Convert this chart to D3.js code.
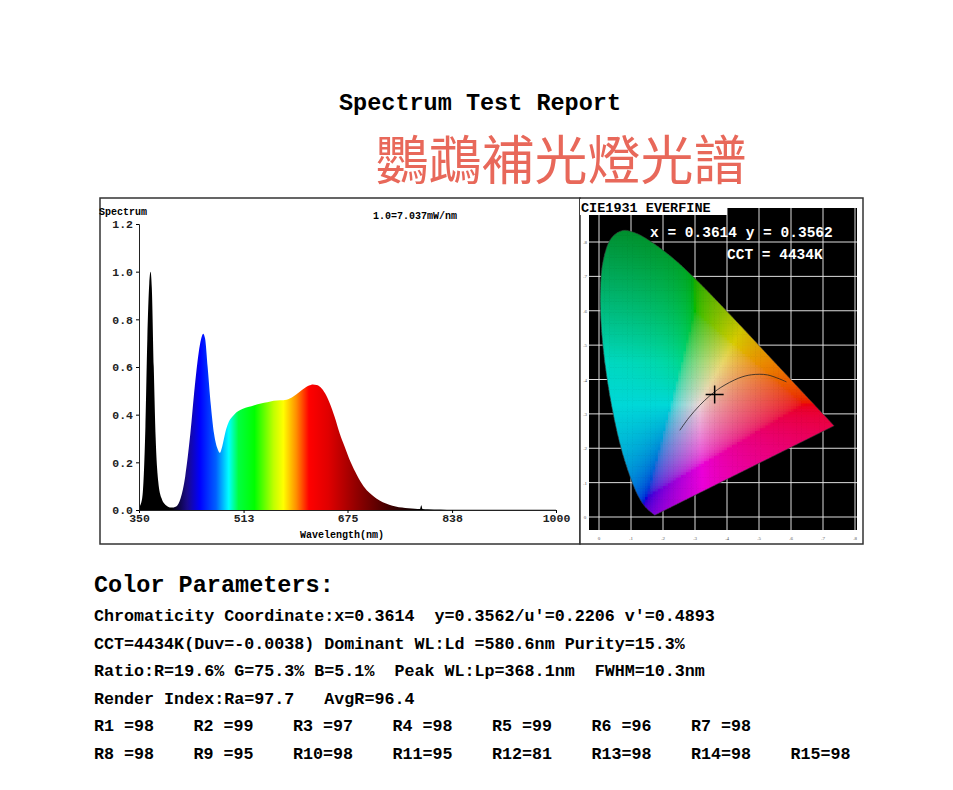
<!DOCTYPE html>
<html><head><meta charset="utf-8">
<script src="https://cdn.jsdelivr.net/npm/d3@7"></script>
<style>body{margin:0;background:#fff}</style></head>
<body><svg id="c" width="953" height="790"></svg>
<script>
// ---- data ----
const wavelengths = [350,355,360,363,366,368,370,373,376,380,385,392,400,408,415,422,430,437,443,447,450,453,457,462,467,472,476,480,485,490,495,500,505,512,520,530,540,550,560,570,580,590,600,610,615,621,627,633,640,647,655,663,670,680,690,700,710,720,730,740,750,760,770,780,788,790,792,800,820,840,870,900,1000];
const power =      [0.01,0.05,0.35,0.72,0.95,1.0,0.93,0.6,0.3,0.12,0.05,0.02,0.01,0.015,0.05,0.14,0.32,0.52,0.66,0.72,0.74,0.72,0.6,0.44,0.32,0.26,0.24,0.27,0.33,0.37,0.39,0.405,0.415,0.425,0.432,0.44,0.447,0.452,0.458,0.46,0.463,0.475,0.495,0.515,0.522,0.527,0.524,0.515,0.49,0.45,0.39,0.32,0.27,0.2,0.145,0.1,0.07,0.048,0.032,0.022,0.015,0.01,0.007,0.005,0.004,0.02,0.004,0.003,0.002,0.001,0.001,0.001,0.001];
const spectrumXTicks = [350,513,675,838,1000];
const spectrumYTicks = [0,0.2,0.4,0.6,0.8,1.0,1.2];
const gradStops = [[350,"#000"],[400,"#000"],[425,"#1a0a8a"],[445,"#0000ff"],[470,"#0060ff"],[490,"#00ffff"],[505,"#00ff40"],[530,"#00ff00"],[560,"#c0ff00"],[575,"#ffff00"],[595,"#ff9000"],[615,"#ff0000"],[645,"#e00000"],[690,"#900000"],[740,"#400000"],[790,"#000"],[1000,"#000"]];
const locusX = [0.1741,0.1440,0.1241,0.1096,0.0913,0.0687,0.0454,0.0235,0.0082,0.0039,0.0139,0.0389,0.0743,0.1142,0.1547,0.2296,0.3016,0.3731,0.4441,0.5125,0.5752,0.6270,0.6915,0.7190,0.7347];
const locusY = [0.0050,0.0297,0.0578,0.0868,0.1327,0.2007,0.2950,0.4127,0.5384,0.6548,0.7502,0.8120,0.8338,0.8262,0.8059,0.7543,0.6923,0.6245,0.5547,0.4866,0.4242,0.3725,0.3083,0.2809,0.2653];
const planckX = [0.2525,0.2805,0.3135,0.3449,0.3805,0.4369,0.4764,0.5267,0.5857];
const planckY = [0.2522,0.2883,0.3237,0.3516,0.3768,0.4041,0.4137,0.4133,0.3931];
const cieTicks = [0,0.1,0.2,0.3,0.4,0.5,0.6,0.7,0.8];
const chromX = 0.3614, chromY = 0.3562;
const paramLines = [
 "Chromaticity Coordinate:x=0.3614  y=0.3562/u'=0.2206 v'=0.4893",
 "CCT=4434K(Duv=-0.0038) Dominant WL:Ld =580.6nm Purity=15.3%",
 "Ratio:R=19.6% G=75.3% B=5.1%  Peak WL:Lp=368.1nm  FWHM=10.3nm",
 "Render Index:Ra=97.7   AvgR=96.4"];
const rNames = ["R1 =98","R2 =99","R3 =97","R4 =98","R5 =99","R6 =96","R7 =98","R8 =98","R9 =95","R10=98","R11=95","R12=81","R13=98","R14=98","R15=98"];

const svg = d3.select("#c");
const mono = "'Liberation Mono','DejaVu Sans Mono',monospace";
svg.append("text").attr("x",480).attr("y",110).attr("text-anchor","middle").attr("font-family",mono).attr("font-weight","bold").attr("font-size",23.5).text("Spectrum Test Report");
svg.append("text").attr("x",561).attr("y",180).attr("text-anchor","middle").attr("font-family","'Noto Sans CJK TC'").attr("font-size",53).attr("fill","#e8685a").text("鸚鵡補光燈光譜");

// ---- spectrum panel ----
svg.append("rect").attr("x",100).attr("y",198).attr("width",480).attr("height",346).attr("fill","#fff").attr("stroke","#333").attr("stroke-width",1.5);
const sx = d3.scaleLinear().domain([350,1000]).range([139,556]);
const sy = d3.scaleLinear().domain([0,1.2]).range([510,224]);
const defs = svg.append("defs");
const lg = defs.append("linearGradient").attr("id","sg").attr("gradientUnits","userSpaceOnUse").attr("x1",sx(350)).attr("x2",sx(1000)).attr("y1",0).attr("y2",0);
gradStops.forEach(s=>lg.append("stop").attr("offset",(s[0]-350)/650).attr("stop-color",s[1]));
const pts = wavelengths.map((w,i)=>[w,power[i]]);
svg.append("path").datum(pts).attr("fill","url(#sg)").attr("d",d3.area().x(d=>sx(d[0])).y0(sy(0)).y1(d=>sy(d[1])).curve(d3.curveMonotoneX));
const xa = svg.append("g").attr("transform","translate(0,510)").call(d3.axisBottom(sx).tickValues(spectrumXTicks).tickFormat(d3.format("d")).tickSize(3));
const ya = svg.append("g").attr("transform","translate(139,0)").call(d3.axisLeft(sy).tickValues(spectrumYTicks).tickFormat(d3.format(".1f")).tickSize(3));
[xa,ya].forEach(a=>{a.selectAll("text").attr("font-family",mono).attr("font-weight","bold").attr("font-size",11.5).attr("fill","#222");a.select(".domain").attr("stroke","#222");});
xa.selectAll("text").attr("dy","0.5em");
svg.append("text").attr("x",99).attr("y",215).attr("font-family",mono).attr("font-weight","bold").attr("font-size",10).text("Spectrum");
svg.append("text").attr("x",373).attr("y",219).attr("font-family",mono).attr("font-weight","bold").attr("font-size",10).text("1.0=7.037mW/nm");
svg.append("text").attr("x",342).attr("y",538).attr("text-anchor","middle").attr("font-family",mono).attr("font-weight","bold").attr("font-size",10).text("Wavelength(nm)");

// ---- CIE panel ----
svg.append("rect").attr("x",580).attr("y",198).attr("width",283).attr("height",346).attr("fill","#fff").attr("stroke","#333").attr("stroke-width",1.5);
const cx = d3.scaleLinear().domain([0,0.8]).range([599,855]);
const cy = d3.scaleLinear().domain([0,0.8]).range([517,242]);
svg.append("rect").attr("x",589).attr("y",208).attr("width",268).attr("height",322).attr("fill","#000");
const grid = svg.append("g").attr("stroke","#ddd").attr("stroke-width",1);
cieTicks.forEach(t=>{
  grid.append("line").attr("x1",cx(t)).attr("x2",cx(t)).attr("y1",208).attr("y2",530);
  grid.append("line").attr("y1",cy(t)).attr("y2",cy(t)).attr("x1",589).attr("x2",857);
});
const cax = svg.append("g");
cieTicks.forEach(t=>{
  cax.append("text").attr("x",cx(t)).attr("y",540).attr("text-anchor","middle").attr("font-size",5).attr("fill","#555").text(t===0?"0":String(t).slice(1));
  cax.append("text").attr("x",585).attr("y",cy(t)+2).attr("text-anchor","middle").attr("font-size",5).attr("fill","#555").text(t===0?"0":String(t).slice(1));
});
const locus = locusX.map((x,i)=>[x,locusY[i]]);
const locusLine = d3.line().x(d=>cx(d[0])).y(d=>cy(d[1])).curve(d3.curveCatmullRom);
defs.append("clipPath").attr("id","lc").append("path").attr("d",locusLine(locus)+"Z");
function xyRgb(x,y){
  const Y=1,X=x/y,Z=(1-x-y)/y;
  let r=3.2406*X-1.5372*Y-0.4986*Z, g=-0.9689*X+1.8758*Y+0.0415*Z, b=0.0557*X-0.2040*Y+1.0570*Z;
  const mn=Math.min(r,g,b); if(mn<0){r-=mn;g-=mn;b-=mn;}
  const mx=Math.max(r,g,b); r/=mx;g/=mx;b/=mx;
  const gm=v=>255*Math.pow(v,1/2.2);
  // tint toward print look: greener top, deeper blue/red
  const R=gm(r), G=gm(g), B=gm(b);
  const gTop = Math.max(0,(y-0.45)/0.4);
  return `rgb(${(R*(1-0.5*gTop)*0.92)|0},${(G*(1-0.35*gTop)*0.85)|0},${(B*(1-0.7*gTop)*0.85)|0})`;
}
const cells = svg.append("g").attr("clip-path","url(#lc)");
const step=0.008;
for(let x=0;x<0.75;x+=step){for(let y=0.004;y<0.84;y+=step){
  cells.append("rect").attr("x",cx(x)).attr("y",cy(y+step)).attr("width",cx(step)-cx(0)+0.6).attr("height",cy(0)-cy(step)+0.6).attr("fill",xyRgb(x+step/2,y+step/2));
}}
svg.append("path").attr("d",locusLine(locus)+"Z").attr("fill","none").attr("stroke","#333").attr("stroke-width",0.6);
svg.append("path").datum(planckX.map((x,i)=>[x,planckY[i]])).attr("d",locusLine).attr("fill","none").attr("stroke","#222").attr("stroke-width",0.8);
svg.append("path").attr("d",`M${cx(chromX)-9},${cy(chromY)}h18M${cx(chromX)},${cy(chromY)-9}v18`).attr("stroke","#000").attr("stroke-width",1.5);
svg.append("rect").attr("x",580).attr("y",199).attr("width",147).attr("height",16).attr("fill","#fff");
svg.append("text").attr("x",581).attr("y",212).attr("font-family",mono).attr("font-weight","bold").attr("font-size",13.5).text("CIE1931 EVERFINE");
svg.append("text").attr("x",650).attr("y",237).attr("font-family",mono).attr("font-weight","bold").attr("font-size",14.5).attr("fill","#fff").attr("xml:space","preserve").text("x = 0.3614 y = 0.3562");
svg.append("text").attr("x",727).attr("y",259).attr("font-family",mono).attr("font-weight","bold").attr("font-size",14.5).attr("fill","#fff").text("CCT = 4434K");

// ---- parameters ----
svg.append("text").attr("x",94).attr("y",592).attr("font-family",mono).attr("font-weight","bold").attr("font-size",23.5).text("Color Parameters:");
paramLines.forEach((l,i)=>svg.append("text").attr("x",94).attr("y",621+i*27.5).attr("font-family",mono).attr("font-weight","bold").attr("font-size",16.7).attr("xml:space","preserve").text(l));
rNames.forEach((r,i)=>{
  const row=i<7?0:1, col=i<7?i:i-7;
  svg.append("text").attr("x",94+col*99.5).attr("y",731+row*27.5).attr("font-family",mono).attr("font-weight","bold").attr("font-size",16.7).text(r);
});
</script></body></html>
